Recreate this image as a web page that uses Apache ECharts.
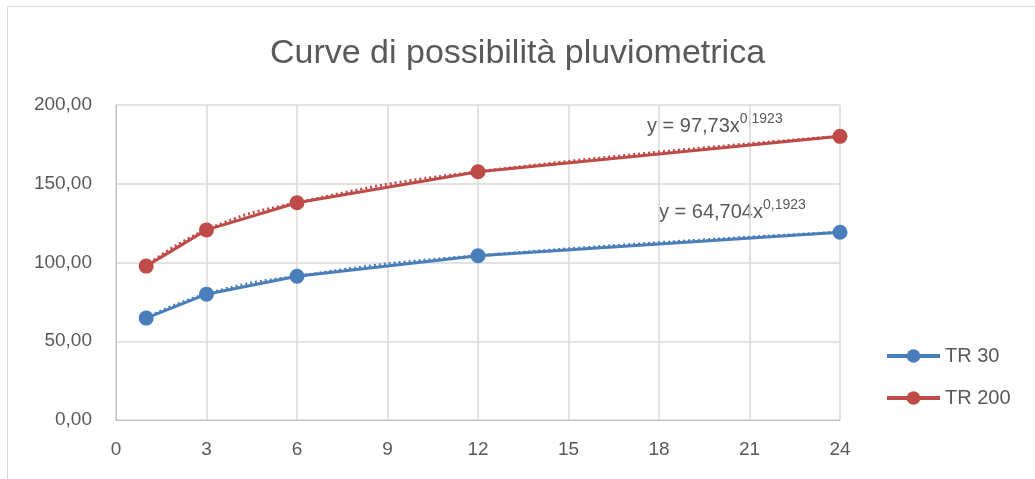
<!DOCTYPE html>
<html>
<head>
<meta charset="utf-8">
<script src="https://cdn.jsdelivr.net/npm/echarts@6/dist/echarts.min.js"></script>
<style>
  html, body { margin: 0; padding: 0; background: #fff; }
  #chart { width: 1035px; height: 479px; }
</style>
</head>
<body>
<div id="chart"></div>
<script>
// durata (ore) e altezze di pioggia
var hours = [1, 3, 6, 12, 24]
var tr30 = [64.7, 79.9, 91.3, 104.3, 119.2]
var tr200 = [97.7, 120.7, 137.9, 157.6, 180.1]
var seriesNames = ['TR 30', 'TR 200']
var eqLabels = ['y = 64,704x', 'y = 97,73x']
var eqExp = '0,1923'

var blue = '#4A7EBB'
var red = '#BE4B48'
var grey = '#595959'
var font = 'Liberation Sans'

function pairs(vals) {
  return hours.map(function(h, i) {
    return [h, vals[i]]
  })
}

var myChart = echarts.init(document.getElementById('chart'))

option = {
  animation: false,
  textStyle: { fontFamily: font },
  title: {
    text: 'Curve di possibilità pluviometrica',
    left: 'center',
    top: 32,
    textStyle: { fontFamily: font, fontSize: 34, fontWeight: 'normal', color: grey }
  },
  legend: {
    orient: 'vertical',
    left: 880,
    top: 341,
    itemWidth: 53,
    itemHeight: 17,
    itemGap: 22,
    data: seriesNames,
    lineStyle: { width: 4 },
    textStyle: { fontFamily: font, fontSize: 20, color: grey }
  },
  grid: { left: 116, right: 195, top: 105, bottom: 59 },
  xAxis: {
    type: 'value',
    min: 0,
    max: 24,
    interval: 3,
    axisLine: { lineStyle: { color: '#BFBFBF', width: 1 } },
    axisTick: { show: false },
    axisLabel: { color: grey, fontSize: 19, margin: 20, fontFamily: font },
    splitLine: { show: true, lineStyle: { color: '#D9D9D9', width: 1.5 } }
  },
  yAxis: {
    type: 'value',
    min: 0,
    max: 200,
    interval: 50,
    axisLine: { show: true, lineStyle: { color: '#BFBFBF', width: 1 } },
    axisTick: { show: false },
    axisLabel: {
      color: grey,
      fontSize: 19,
      margin: 24,
      fontFamily: font,
      formatter: function(v) {
        return v.toFixed(2).replace('.', ',')
      }
    },
    splitLine: { show: true, lineStyle: { color: '#D9D9D9', width: 1.5 } }
  },
  series: [
    {
      name: seriesNames[0],
      type: 'line',
      data: pairs(tr30),
      symbol: 'circle',
      symbolSize: 15,
      itemStyle: { color: blue },
      lineStyle: { color: blue, width: 3 },
      z: 3
    },
    {
      name: seriesNames[1],
      type: 'line',
      data: pairs(tr200),
      symbol: 'circle',
      symbolSize: 15,
      itemStyle: { color: red },
      lineStyle: { color: red, width: 3 },
      z: 3
    },
    // linee di tendenza (potenza), tratteggio a puntini
    {
      name: 'trend30',
      type: 'line',
      data: pairs(tr30),
      smooth: 0.5,
      symbol: 'none',
      lineStyle: { color: blue, width: 3, type: [2, 3] },
      z: 2,
      silent: true
    },
    {
      name: 'trend200',
      type: 'line',
      data: pairs(tr200),
      smooth: 0.5,
      symbol: 'none',
      lineStyle: { color: red, width: 3, type: [2, 3] },
      z: 2,
      silent: true
    }
  ],
  graphic: [
    {
      type: 'rect',
      shape: { x: 7.5, y: 6.5, width: 1100, height: 600 },
      style: { fill: 'none', stroke: '#D9D9D9', lineWidth: 1 },
      silent: true
    },
    {
      type: 'text',
      left: 647,
      top: 112,
      style: {
        text: '{a|' + eqLabels[1] + '}{b|' + eqExp + '}',
        rich: {
          a: { fontFamily: font, fontSize: 20, fill: grey },
          b: { fontFamily: font, fontSize: 14, fill: grey, padding: [0, 0, 14, 0] }
        }
      }
    },
    {
      type: 'text',
      left: 659,
      top: 198,
      style: {
        text: '{a|' + eqLabels[0] + '}{b|' + eqExp + '}',
        rich: {
          a: { fontFamily: font, fontSize: 20, fill: grey },
          b: { fontFamily: font, fontSize: 14, fill: grey, padding: [0, 0, 14, 0] }
        }
      }
    }
  ]
}
myChart.setOption(option)
window.onresize = function() {
  myChart.resize()
}
</script>
</body>
</html>
